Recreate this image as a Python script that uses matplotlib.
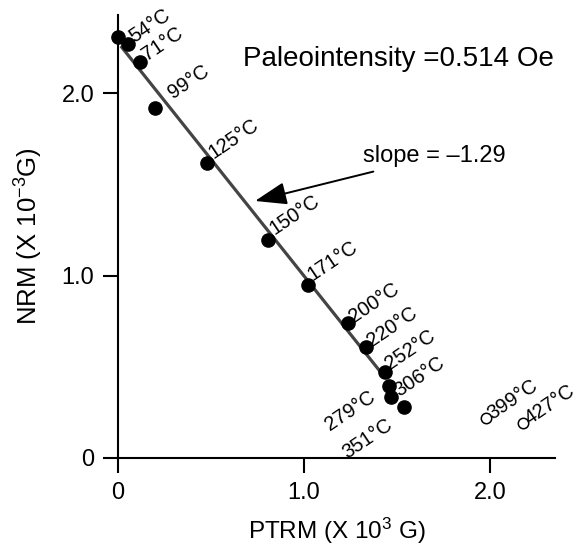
import matplotlib

matplotlib.use("Agg")
import matplotlib.pyplot as plt

plt.rcParams["font.family"] = ["Liberation Sans", "DejaVu Sans"]
plt.rcParams["mathtext.fontset"] = "custom"
plt.rcParams["mathtext.rm"] = "Liberation Sans"
plt.rcParams["mathtext.default"] = "regular"

# Thellier steps, PTRM gained vs NRM remaining (x 10^-3 G)
nrm0_ptrm = [0.0]
nrm0_nrm = [2.31]

temps = ["54", "71", "99", "125", "150", "171", "200", "220", "252", "279", "306", "351"]
ptrm = [0.054, 0.118, 0.20, 0.48, 0.808, 1.02, 1.235, 1.333, 1.435, 1.455, 1.47, 1.537]
nrm = [2.27, 2.17, 1.92, 1.62, 1.198, 0.947, 0.74, 0.608, 0.47, 0.397, 0.337, 0.279]

# rejected (altered) steps
temps_out = ["399", "427"]
ptrm_out = [1.98, 2.18]
nrm_out = [0.218, 0.194]

# best-fit segment
fit_x = [0.015, 1.41]
fit_y = [2.26, 0.474]
slope = -1.29
paleo = 0.514

# label offsets in pixels (dx, dy) and anchor side
offsets = [(6, 1), (7, 1), (18, 9), (6, 4), (6, 5), (5, 4), (6, 0), (6, 0),
           (5, 2), (-12, -14), (8, 0), (-10, -20)]
sides = ["left"] * 9 + ["right", "left", "right"]

fig = plt.figure(figsize=(5.83, 5.46), dpi=100)
ax = fig.add_axes([0.2024, 0.1612, 0.7496, 0.8113])

ax.plot(fit_x, fit_y, color="#444444", lw=2.3, zorder=2, solid_capstyle="butt")
ax.plot(nrm0_ptrm + ptrm, nrm0_nrm + nrm, "o", color="black", ms=9.5,
        zorder=3, clip_on=False)
ax.plot(ptrm_out, nrm_out, "o", mfc="white", mec="black", mew=1.1, ms=7.5,
        zorder=3, clip_on=False)

for t, x, y, off, side in zip(temps, ptrm, nrm, offsets, sides):
    ax.annotate(f"{t}\u00b0C", (x, y), xytext=off, textcoords="offset pixels",
                ha=side, va="baseline", rotation=34, rotation_mode="anchor",
                fontsize=14.5)
for t, x, y in zip(temps_out, ptrm_out, nrm_out):
    ax.annotate(f"{t}\u00b0C", (x, y), xytext=(6, -2), textcoords="offset pixels",
                ha="left", va="baseline", rotation=34, rotation_mode="anchor",
                fontsize=14.5)

ax.annotate(f"slope = \u2013{abs(slope):.2f}", xy=(0.737, 1.41), xytext=(1.317, 1.654),
            fontsize=17, va="center", ha="left",
            arrowprops=dict(arrowstyle="-|>,head_length=1.4,head_width=0.5",
                            color="black", lw=1.4, shrinkA=4, shrinkB=0,
                            mutation_scale=14))
ax.text(0.672, 2.19, f"Paleointensity ={paleo} Oe", fontsize=20, va="center", ha="left")

ax.set_xlim(0, 2.35)
ax.set_ylim(0, 2.43)
ax.set_xticks([0, 1.0, 2.0])
ax.set_xticklabels(["0", "1.0", "2.0"])
ax.set_yticks([0, 1.0, 2.0])
ax.set_yticklabels(["0", "1.0", "2.0"])
ax.tick_params(direction="out", length=11, width=1.5, labelsize=17, pad=6)
for s in ["top", "right"]:
    ax.spines[s].set_visible(False)
for s in ["left", "bottom"]:
    ax.spines[s].set_linewidth(1.5)

ax.set_xlabel("PTRM (X 10$^{3}$ G)", fontsize=17.5, labelpad=9)
ax.set_ylabel("NRM (X 10$^{-3}$G)", fontsize=18.5, labelpad=12)

fig.savefig("out.png", dpi=100)
